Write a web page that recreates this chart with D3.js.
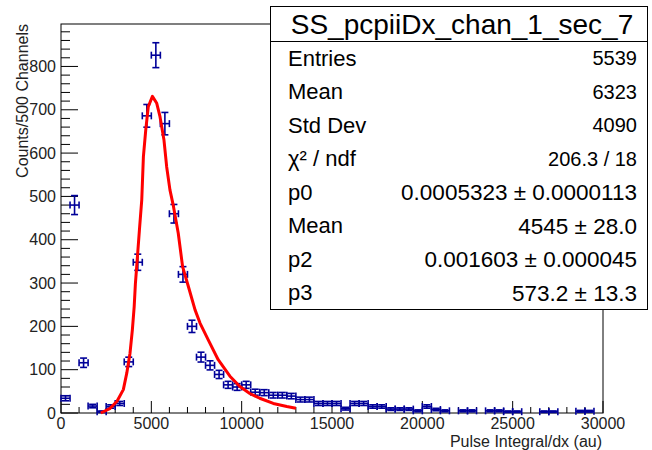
<!doctype html>
<html lang="en">

<head>
    <meta charset="UTF-8">
    <title>SS_pcpiiDx_chan_1_sec_7</title>
    <style>
        body { margin: 0; background: #fff; }
        text { font-family: "Liberation Sans", Arial, sans-serif; }
    </style>
</head>

<body>
    <svg width="652" height="450"></svg>
    <script src="https://cdn.jsdelivr.net/npm/d3@7/dist/d3.min.js"></script>
    <script>
    // histogram: bin centres (500 wide) and counts, zero bins left out
    var binCenters = [250, 750, 1250, 1750, 2250, 2750, 3250, 3750, 4250, 4750, 5250, 5750, 6250, 6750, 7250, 7750, 8250, 8750, 9250, 9750,
        10250, 10750, 11250, 11750, 12250, 12750, 13250, 13750, 14250, 14750, 15250, 15750, 16250, 16750, 17250, 17750, 18250, 18750, 19250, 19750,
        20250, 20750, 21250, 22250, 22750, 23750, 24250, 24750, 25250, 26750, 27250, 28750, 29250];
    var counts = [34, 480, 116, 16, 3, 15, 22, 118, 348, 686, 826, 668, 460, 320, 200, 129, 110, 89, 65, 60,
        65, 48, 47, 41, 41, 39, 31, 31, 22, 22, 22, 10, 22, 22, 15, 15, 9, 9, 9, 5,
        15, 8, 5, 5, 5, 5, 5, 3, 3, 3, 3, 4, 4];
    var binWidth = 500;

    // fitted curve
    var fitX = [2200, 2700, 3100, 3450, 3640, 3820, 3950, 4050, 4120, 4190, 4340, 4470, 4560, 4690, 4830, 5060, 5300, 5480, 5700, 5850,
        6030, 6220, 6490, 6730, 7050, 7420, 7700, 8150, 8700, 9350, 9900, 10450, 11000, 11750, 12500, 13000];
    var fitY = [0, 10, 27, 54, 92, 138, 192, 245, 300, 338, 422, 492, 591, 653, 707, 731, 715, 684, 630, 568,
        515, 478, 415, 338, 292, 238, 207, 169, 123, 85, 61, 45, 34, 22, 15, 11];

    var xTicks = [0, 5000, 10000, 15000, 20000, 25000, 30000];
    var yTicks = [0, 100, 200, 300, 400, 500, 600, 700, 800];

    var statLabels = ['Entries', 'Mean', 'Std Dev', 'χ² / ndf', 'p0', 'Mean', 'p2', 'p3'];
    var statValues = ['5539', '6323', '4090', '206.3 / 18', '0.0005323 ± 0.0000113', '4545 ± 28.0', '0.001603 ± 0.000045', '573.2 ± 13.3'];

    var svg = d3.select('svg');
    var blue = '#000099';

    var x = d3.scaleLinear()
        .domain([0, 30000])
        .range([61, 603]);
    var y = d3.scaleLinear()
        .domain([0, 898])
        .range([413, 24]);

    // frame
    svg.append('rect')
        .attr('x', 61)
        .attr('y', 24)
        .attr('width', 542)
        .attr('height', 389)
        .attr('fill', 'none')
        .attr('stroke', '#000')
        .attr('stroke-width', 1);

    // ticks drawn inside the frame, ROOT style
    var ticks = svg.append('g').attr('stroke', '#000').attr('stroke-width', 1);
    d3.range(0, 30001, 1000).forEach(function(v) {
        var major = v % 5000 === 0;
        ticks.append('line')
            .attr('x1', x(v)).attr('x2', x(v))
            .attr('y1', 413).attr('y2', 413 - (major ? 12 : 6));
    });
    d3.range(0, 898, 20).forEach(function(v) {
        var major = v % 100 === 0;
        ticks.append('line')
            .attr('x1', 61).attr('x2', 61 + (major ? 17 : 9))
            .attr('y1', y(v)).attr('y2', y(v));
    });

    svg.append('g').selectAll('text')
        .data(xTicks)
        .enter()
        .append('text')
        .attr('x', function(d) { return x(d); })
        .attr('y', 429)
        .attr('text-anchor', 'middle')
        .style('font-size', '16px')
        .style('fill', '#222')
        .text(function(d) { return d; });
    svg.append('g').selectAll('text')
        .data(yTicks)
        .enter()
        .append('text')
        .attr('x', 56)
        .attr('y', function(d) { return y(d); })
        .attr('dy', '0.35em')
        .attr('text-anchor', 'end')
        .style('font-size', '16px')
        .style('fill', '#222')
        .text(function(d) { return d; });

    svg.append('text')
        .attr('x', 602)
        .attr('y', 447)
        .attr('text-anchor', 'end')
        .style('font-size', '16px')
        .style('fill', '#222')
        .text('Pulse Integral/dx (au)');
    svg.append('text')
        .attr('transform', 'translate(28,24) rotate(-90)')
        .attr('text-anchor', 'end')
        .style('font-size', '16px')
        .style('fill', '#222')
        .text('Counts/500 Channels');

    // error bars
    var pts = svg.append('g')
        .attr('stroke', blue)
        .attr('stroke-width', 1.6)
        .attr('fill', 'none');
    var cap = 3.5;
    binCenters.forEach(function(c, i) {
        var n = counts[i];
        var e = Math.sqrt(n);
        var cx = x(c), cy = y(n);
        var xl = x(c - binWidth / 2), xr = x(c + binWidth / 2);
        var yt = y(n + e), yb = y(Math.max(0, n - e));
        var g = pts.append('g');
        g.append('line').attr('x1', xl).attr('x2', xr).attr('y1', cy).attr('y2', cy);
        g.append('line').attr('x1', xl).attr('x2', xl).attr('y1', cy - cap).attr('y2', cy + cap);
        g.append('line').attr('x1', xr).attr('x2', xr).attr('y1', cy - cap).attr('y2', cy + cap);
        g.append('line').attr('x1', cx).attr('x2', cx).attr('y1', yt).attr('y2', yb);
        g.append('line').attr('x1', cx - cap).attr('x2', cx + cap).attr('y1', yt).attr('y2', yt);
        g.append('line').attr('x1', cx - cap).attr('x2', cx + cap).attr('y1', yb).attr('y2', yb);
    });

    // fit curve
    var line = d3.line()
        .x(function(d, i) { return x(fitX[i]); })
        .y(function(d) { return y(d); });
    svg.append('path')
        .attr('d', line(fitY))
        .attr('fill', 'none')
        .attr('stroke', '#ff0000')
        .attr('stroke-width', 3)
        .attr('stroke-linejoin', 'round');

    // stats box
    var box = svg.append('g');
    box.append('rect')
        .attr('x', 270.5)
        .attr('y', 6.5)
        .attr('width', 377)
        .attr('height', 303)
        .attr('fill', '#fff')
        .attr('stroke', '#000')
        .attr('stroke-width', 1);
    box.append('line')
        .attr('x1', 270.5).attr('x2', 647.5)
        .attr('y1', 41.5).attr('y2', 41.5)
        .attr('stroke', '#000');
    box.append('text')
        .attr('x', 462)
        .attr('y', 34)
        .attr('text-anchor', 'middle')
        .style('font-size', '28px')
        .text('SS_pcpiiDx_chan_1_sec_7');
    var rowH = (309.5 - 41.5) / statLabels.length;
    box.selectAll('text.lab')
        .data(statLabels)
        .enter()
        .append('text')
        .attr('class', 'lab')
        .attr('x', 288)
        .attr('y', function(d, i) { return 41.5 + rowH * (i + 0.5); })
        .attr('dy', '0.35em')
        .style('font-size', '22px')
        .text(function(d) { return d; });
    box.selectAll('text.val')
        .data(statValues)
        .enter()
        .append('text')
        .attr('class', 'val')
        .attr('x', 637)
        .attr('y', function(d, i) { return 41.5 + rowH * (i + 0.5); })
        .attr('dy', '0.35em')
        .attr('text-anchor', 'end')
        .style('font-size', function(d) { return d.indexOf('±') >= 0 ? '22.5px' : '20px'; })
        .text(function(d) { return d; });
    </script>
</body>

</html>
